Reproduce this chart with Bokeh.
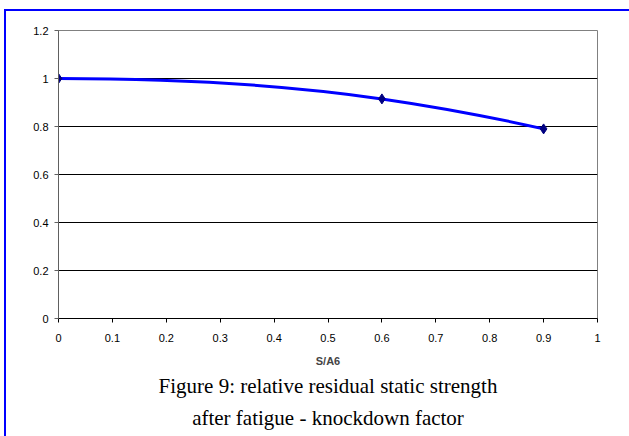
import numpy as np
from bokeh.plotting import figure
from bokeh.models import Range1d, FixedTicker, NumeralTickFormatter, Title
from bokeh.embed import file_html
from bokeh.resources import INLINE

# ---- data ----
x_vals = [0.0, 0.6, 0.9]
y_vals = [1.0, 0.915, 0.79]
x_ticks = [0.0, 0.1, 0.2, 0.3, 0.4, 0.5, 0.6, 0.7, 0.8, 0.9, 1.0]
y_ticks = [0.0, 0.2, 0.4, 0.6, 0.8, 1.0, 1.2]
x_label = "S/A6"
caption_lines = ["Figure 9: relative residual static strength",
                 "after fatigue - knockdown factor"]

FONT = "Liberation Sans"

p = figure(width=629, height=436, output_backend="svg", toolbar_location=None,
           x_range=Range1d(0, 1), y_range=Range1d(0, 1.2),
           min_border_left=58, min_border_right=32, min_border_top=30,
           min_border_bottom=118, background_fill_color="white",
           border_fill_color=None)
p.outline_line_color = "#808080"
p.outline_line_width = 1
# blue outer frame of the figure box (left and top edges visible)
p.styles = {
    "background": ("linear-gradient(#0000FF,#0000FF) 4px 9px / 2px calc(100% - 9px) no-repeat, "
                   "linear-gradient(#0000FF,#0000FF) 4px 9px / calc(100% - 4px) 2px no-repeat, "
                   "#ffffff"),
}

# smooth line (cubic Hermite through the data points, drawn as bezier segments)
xa = np.array(x_vals)
ya = np.array(y_vals)
h = np.diff(xa)
s = np.diff(ya) / h
m = np.zeros_like(xa)
m[1:-1] = (h[1:] * s[:-1] + h[:-1] * s[1:]) / (h[:-1] + h[1:])
m[0] = ((2 * h[0] + h[1]) * s[0] - h[0] * s[1]) / (h[0] + h[1])
m[-1] = ((2 * h[-1] + h[-2]) * s[-1] - h[-1] * s[-2]) / (h[-1] + h[-2])
if m[0] * s[0] <= 0:
    m[0] = 0.0
p.bezier(x0=xa[:-1], y0=ya[:-1], x1=xa[1:], y1=ya[1:],
         cx0=xa[:-1] + h / 3, cy0=ya[:-1] + m[:-1] * h / 3,
         cx1=xa[1:] - h / 3, cy1=ya[1:] - m[1:] * h / 3,
         line_color="#0000FF", line_width=3)
p.scatter(xa, ya, marker="diamond", size=10, fill_color="#000080",
          line_color="#000080")

# axes
p.xaxis.ticker = FixedTicker(ticks=x_ticks)
p.yaxis.ticker = FixedTicker(ticks=y_ticks)
p.xaxis.formatter = NumeralTickFormatter(format="0.[0]")
p.yaxis.formatter = NumeralTickFormatter(format="0.[0]")
for ax in (p.xaxis[0], p.yaxis[0]):
    ax.major_label_text_font = FONT
    ax.major_label_text_font_size = "11px"
    ax.major_label_text_color = "black"
    ax.major_tick_in = 0
    ax.major_tick_out = 4
    ax.minor_tick_line_color = None
p.xaxis.axis_line_color = "black"
p.xaxis.major_tick_line_color = "black"
p.yaxis.axis_line_color = "#606060"
p.yaxis.major_tick_line_color = "#606060"
p.xaxis.major_label_standoff = 11
p.yaxis.major_label_standoff = 6
p.xaxis.axis_label = x_label
p.xaxis.axis_label_text_font = FONT
p.xaxis.axis_label_text_font_size = "11px"
p.xaxis.axis_label_text_font_style = "bold"
p.xaxis.axis_label_standoff = 10

p.xgrid.visible = False
p.ygrid.ticker = FixedTicker(ticks=y_ticks[:-1])
p.ygrid.grid_line_color = "black"
p.ygrid.grid_line_width = 1

# caption
for line, sto in zip(caption_lines, [4, 8]):
    p.add_layout(Title(text=line, align="center", text_font="Liberation Serif",
                       text_font_size="21px", text_font_style="normal",
                       text_color="black", standoff=sto), "below")

open("out.html", "w").write(file_html(p, INLINE))
